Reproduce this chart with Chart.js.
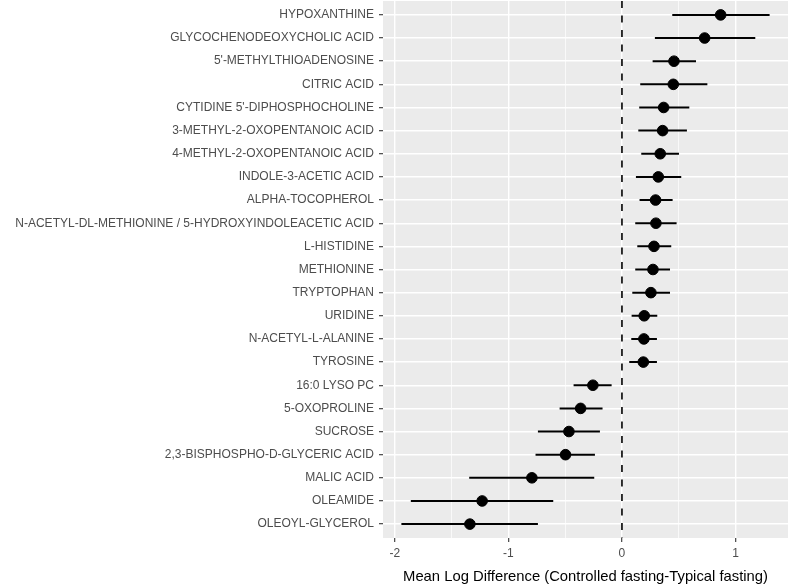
<!DOCTYPE html>
<html>
<head>
<meta charset="utf-8">
<script src="https://cdn.jsdelivr.net/npm/chart.js@4/dist/chart.umd.min.js"></script>
<style>
  html, body { margin: 0; padding: 0; background: #fff; }
  #wrap { width: 789px; height: 584px; }
</style>
</head>
<body>
<div id="wrap"><canvas id="chart"></canvas></div>
<script>
// ─── Data (top to bottom) ──────────────────────────────────────────────────────
const metabolites = [
  "HYPOXANTHINE", "GLYCOCHENODEOXYCHOLIC ACID", "5'-METHYLTHIOADENOSINE", "CITRIC ACID",
  "CYTIDINE 5'-DIPHOSPHOCHOLINE", "3-METHYL-2-OXOPENTANOIC ACID", "4-METHYL-2-OXOPENTANOIC ACID",
  "INDOLE-3-ACETIC ACID", "ALPHA-TOCOPHEROL", "N-ACETYL-DL-METHIONINE / 5-HYDROXYINDOLEACETIC ACID",
  "L-HISTIDINE", "METHIONINE", "TRYPTOPHAN", "URIDINE", "N-ACETYL-L-ALANINE", "TYROSINE",
  "16:0 LYSO PC", "5-OXOPROLINE", "SUCROSE", "2,3-BISPHOSPHO-D-GLYCERIC ACID", "MALIC ACID",
  "OLEAMIDE", "OLEOYL-GLYCEROL"
];
const meanDiff = [0.869, 0.728, 0.458, 0.452, 0.367, 0.358, 0.337, 0.320, 0.296, 0.299,
  0.282, 0.273, 0.255, 0.196, 0.193, 0.188, -0.256, -0.364, -0.467, -0.497, -0.793, -1.231, -1.339];
const lower = [0.443, 0.290, 0.270, 0.161, 0.152, 0.144, 0.170, 0.123, 0.155, 0.117,
  0.135, 0.117, 0.091, 0.085, 0.082, 0.064, -0.426, -0.549, -0.740, -0.761, -1.345, -1.859, -1.942];
const upper = [1.300, 1.174, 0.652, 0.752, 0.593, 0.572, 0.502, 0.522, 0.446, 0.481,
  0.434, 0.423, 0.423, 0.311, 0.308, 0.308, -0.091, -0.171, -0.194, -0.238, -0.244, -0.605, -0.740];
const xTicks = [-2, -1, 0, 1];

// error bars as one line with gaps between rows
const barPts = [];
metabolites.forEach((m, i) => {
  barPts.push({ x: lower[i], y: i }, { x: upper[i], y: i }, { x: null, y: i });
});

// grey panel behind everything
const panelBg = {
  id: "panelBg",
  beforeDraw(chart) {
    const { ctx, chartArea: a } = chart;
    ctx.save();
    ctx.fillStyle = "#EBEBEB";
    ctx.fillRect(a.left, a.top, a.right - a.left, a.bottom - a.top);
    ctx.restore();
  }
};

const isMajor = v => xTicks.includes(v);
const noPad = s => { s.paddingTop = 0; s.paddingBottom = 0; s.paddingLeft = 0; s.paddingRight = 0; };
const font12 = { family: "'Liberation Sans', Arial, sans-serif", size: 12 };

new Chart(document.getElementById("chart"), {
  type: "scatter",
  data: {
    datasets: [
      {
        label: "estimate",
        data: meanDiff.map((v, i) => ({ x: v, y: i })),
        backgroundColor: "#000",
        borderColor: "#000",
        pointRadius: 5.3,
        pointHoverRadius: 5.3,
        order: 0
      },
      {
        type: "line",
        label: "interval",
        data: barPts,
        borderColor: "#000",
        borderWidth: 2,
        pointRadius: 0,
        spanGaps: false,
        order: 1
      },
      {
        type: "line",
        label: "zero",
        data: [{ x: 0, y: -0.6 }, { x: 0, y: metabolites.length - 0.4 }],
        borderColor: "#000",
        borderWidth: 1.6,
        borderDash: [7, 7.5],
        pointRadius: 0,
        order: 2
      }
    ]
  },
  plugins: [panelBg],
  options: {
    responsive: true,
    maintainAspectRatio: false,
    animation: false,
    layout: { autoPadding: false, padding: { top: 1, right: 1, left: 0, bottom: 0 } },
    plugins: { legend: { display: false }, tooltip: { enabled: false } },
    scales: {
      x: {
        type: "linear",
        min: -2.104,
        max: 1.462,
        afterFit: s => { s.height = 46; noPad(s); },
        ticks: {
          stepSize: 0.5,
          includeBounds: false,
          padding: 4,
          color: "#4D4D4D",
          font: font12,
          callback: v => isMajor(v) ? String(v) : ""
        },
        grid: {
          color: "#FFFFFF",
          lineWidth: c => isMajor(c.tick.value) ? 1.4 : 0.7,
          tickColor: c => isMajor(c.tick.value) ? "#333333" : "rgba(0,0,0,0)",
          tickWidth: 1.1,
          tickLength: 4
        },
        border: { display: false },
        title: {
          display: true,
          text: "Mean Log Difference (Controlled fasting-Typical fasting)",
          color: "#000",
          padding: { top: 0, bottom: 0 },
          font: { family: "'Liberation Sans', Arial, sans-serif", size: 14.8, lineHeight: 1 }
        }
      },
      y: {
        type: "linear",
        reverse: true,
        min: -0.6,
        max: metabolites.length - 0.4,
        afterFit: s => { s.width = 383; noPad(s); },
        afterBuildTicks: s => { s.ticks = metabolites.map((m, i) => ({ value: i })); },
        ticks: {
          padding: 5,
          autoSkip: false,
          color: "#4D4D4D",
          font: font12,
          callback: v => metabolites[v]
        },
        grid: {
          color: "#FFFFFF",
          lineWidth: 1.4,
          tickColor: "#333333",
          tickWidth: 1.1,
          tickLength: 4
        },
        border: { display: false }
      }
    }
  }
});
</script>
</body>
</html>
